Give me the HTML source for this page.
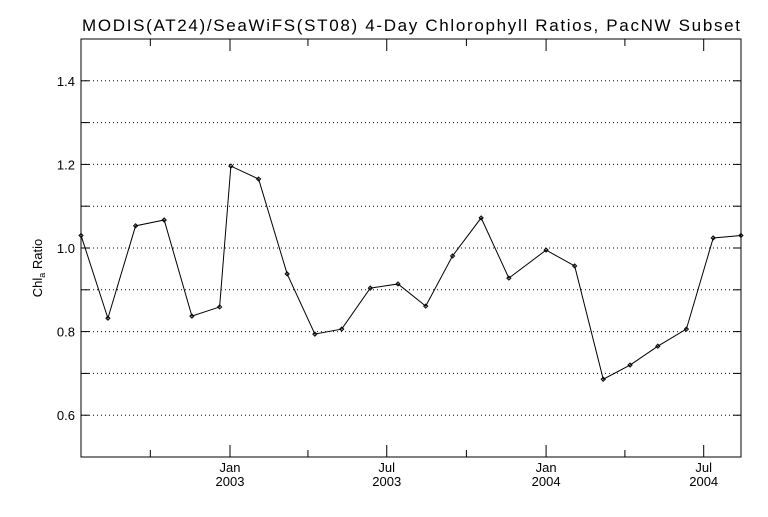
<!DOCTYPE html>
<html><head><meta charset="utf-8"><style>
body{margin:0;background:#fff}
svg text{font-family:"Liberation Sans",sans-serif;fill:#000}
</style></head><body>
<svg id="chart" width="768" height="512" viewBox="0 0 768 512" xmlns="http://www.w3.org/2000/svg">
<rect width="768" height="512" fill="#fff"/>
<text x="82" y="31" font-size="17" textLength="658" lengthAdjust="spacing">MODIS(AT24)/SeaWiFS(ST08) 4-Day Chlorophyll Ratios, PacNW Subset</text>
<g id="grid"></g><g id="axes"></g><g id="series"></g>
<text transform="translate(42,268) rotate(-90)" font-size="13" text-anchor="middle">Chl<tspan font-size="9" dy="3">a</tspan><tspan dy="-3"> Ratio</tspan></text>
</svg>
<script>
// days offset from 2003-01-01
const days=[-172,-141,-109,-76,-44,-12,1,33,66,98,129,162,194,226,257,290,322,365,398,431,462,494,527,558,590];
const ratios=[1.03,0.832,1.053,1.067,0.837,0.859,1.196,1.165,0.938,0.794,0.806,0.904,0.914,0.861,0.981,1.072,0.928,0.995,0.957,0.686,0.72,0.765,0.806,1.024,1.03];
const yTicks=[0.6,0.8,1.0,1.2,1.4];
const yGrid=[0.6,0.7,0.8,0.9,1.0,1.1,1.2,1.3,1.4];
const xMajor=[[0,"Jan","2003"],[181,"Jul","2003"],[365,"Jan","2004"],[547,"Jul","2004"]];
const xMinor=[-92,90,273,456];
const L=81,R=741,T=39,B=457;
const x=d=>230+d*0.866;
const y=v=>B-(v-0.5)*(B-T);
const NS="http://www.w3.org/2000/svg";
function mk(p,tag,a){const e=document.createElementNS(NS,tag);for(const k in a)e.setAttribute(k,a[k]);document.getElementById(p).appendChild(e);return e;}
yGrid.forEach(v=>{
 const g=mk("grid","line",{x1:L,x2:R,y1:y(v),y2:y(v),stroke:"#000","stroke-width":1,"stroke-dasharray":"1,3"});
 
 
 mk("axes","line",{x1:L,x2:L+8,y1:y(v),y2:y(v),stroke:"#000"});
 mk("axes","line",{x1:R,x2:R-8,y1:y(v),y2:y(v),stroke:"#000"});
});
const fr=mk("axes","rect",{x:L,y:T,width:R-L,height:B-T,fill:"none",stroke:"#000"});


yTicks.forEach(v=>{
 const t=mk("axes","text",{x:L-6,y:y(v)+5,"font-size":13,"text-anchor":"end"});
 t.textContent=v.toFixed(1);
 
 
});
xMajor.forEach(m=>{
 const px=x(m[0]);
 mk("axes","line",{x1:px,x2:px,y1:B,y2:B-12,stroke:"#000"});
 mk("axes","line",{x1:px,x2:px,y1:T,y2:T+12,stroke:"#000"});
 const t1=mk("axes","text",{x:px,y:B+15,"font-size":13,"text-anchor":"middle"});
 t1.textContent=m[1];
 
 
 const t2=mk("axes","text",{x:px,y:B+29,"font-size":13,"text-anchor":"middle"});
 t2.textContent=m[2];
 
 
});
xMinor.forEach(d=>{
 const px=x(d);
 mk("axes","line",{x1:px,x2:px,y1:B,y2:B-7,stroke:"#000"});
 mk("axes","line",{x1:px,x2:px,y1:T,y2:T+7,stroke:"#000"});
});
const pts=days.map((d,i)=>x(d)+","+y(ratios[i])).join(" ");
const pl=mk("series","polyline",{points:pts,fill:"none",stroke:"#000","stroke-width":1});


days.forEach((d,i)=>{
 const px=x(d),py=y(ratios[i]);
 const p=mk("series","path",{d:`M${px-2},${py}L${px},${py-2}L${px+2},${py}L${px},${py+2}Z`,fill:"none",stroke:"#000"});
 
 
});
</script>
</body></html>
